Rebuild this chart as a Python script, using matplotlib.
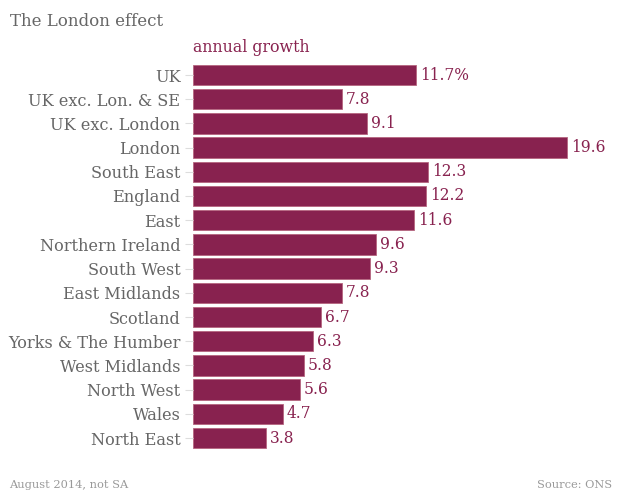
import matplotlib
matplotlib.use("Agg")
import matplotlib.pyplot as plt

regions = ["UK", "UK exc. Lon. & SE", "UK exc. London", "London", "South East",
           "England", "East", "Northern Ireland", "South West", "East Midlands",
           "Scotland", "Yorks & The Humber", "West Midlands", "North West",
           "Wales", "North East"]
growth = [11.7, 7.8, 9.1, 19.6, 12.3, 12.2, 11.6, 9.6, 9.3, 7.8, 6.7, 6.3, 5.8, 5.6, 4.7, 3.8]
value_labels = ["11.7%", "7.8", "9.1", "19.6", "12.3", "12.2", "11.6", "9.6", "9.3",
                "7.8", "6.7", "6.3", "5.8", "5.6", "4.7", "3.8"]

BAR = "#88224f"
GREY = "#666666"
FONT = "DejaVu Serif"

W, H = 620, 491
fig = plt.figure(figsize=(W / 100, H / 100), dpi=100)
fig.patch.set_facecolor("white")

left, right = 193, 600
top, bottom = 62.9, 450.1
ax = fig.add_axes([left / W, 1 - bottom / H, (right - left) / W, (bottom - top) / H])
px_per_unit = (567 - 193) / 19.6
ax.set_xlim(0, (right - left) / px_per_unit)
ax.set_ylim(len(regions) - 0.5, -0.5)

ypos = list(range(len(regions)))
ax.barh(ypos, growth, height=0.84, color=BAR, edgecolor="#b5667f", linewidth=0.6)

for y, v, lab in zip(ypos, growth, value_labels):
    ax.text(v + 4 / px_per_unit, y, lab, va="center", ha="left", color=BAR,
            fontsize=11.2, family=FONT)

ax.set_yticks(ypos)
ax.set_yticklabels(regions, family=FONT, fontsize=11.6, color=GREY)
ax.tick_params(axis="y", length=6, width=0.8, color="#dddddd", pad=3)
ax.set_xticks([])
for s in ax.spines.values():
    s.set_visible(False)

fig.text(10 / W, 1 - 21 / H, "The London effect", family=FONT, fontsize=12,
         color=GREY, va="center", ha="left")
fig.text(193 / W, 1 - 48 / H, "annual growth", family=FONT, fontsize=11.4,
         color=BAR, va="center", ha="left")
fig.text(9 / W, 1 - 485 / H, "August 2014, not SA", family=FONT, fontsize=8.2,
         color="#999999", va="center", ha="left")
fig.text(612 / W, 1 - 485 / H, "Source: ONS", family=FONT, fontsize=8.2,
         color="#999999", va="center", ha="right")

fig.savefig("out.png", dpi=100, facecolor="white")
